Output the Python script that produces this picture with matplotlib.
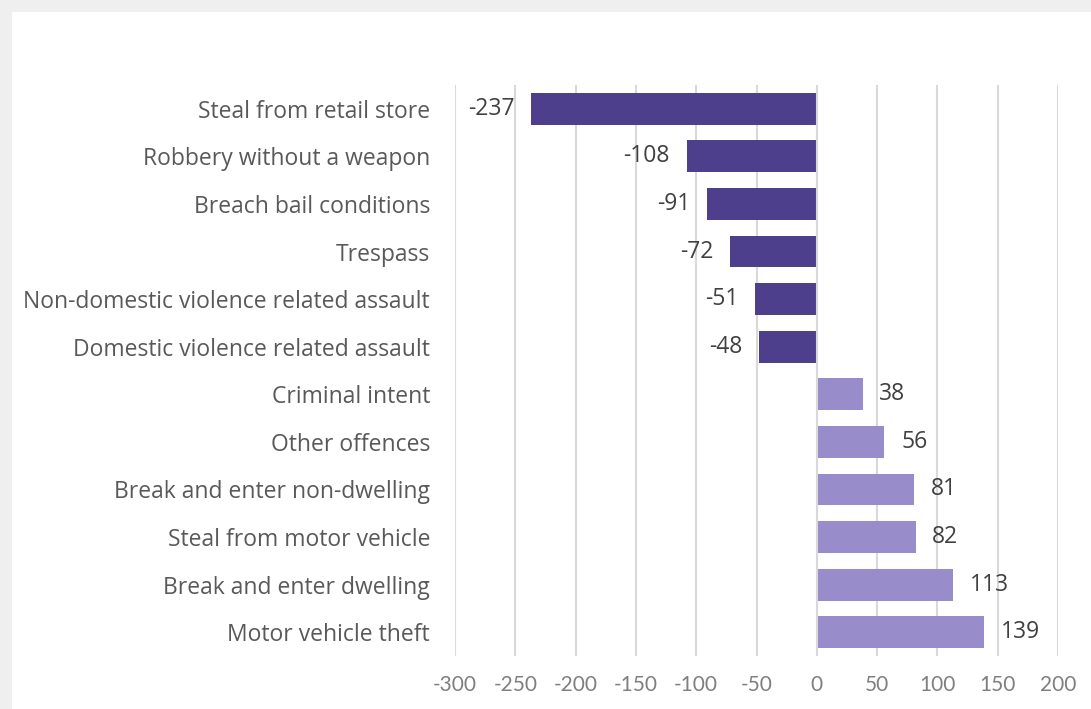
import matplotlib.pyplot as plt
from matplotlib.patches import Rectangle

categories = [
    "Steal from retail store",
    "Robbery without a weapon",
    "Breach bail conditions",
    "Trespass",
    "Non-domestic violence related assault",
    "Domestic violence related assault",
    "Criminal intent",
    "Other offences",
    "Break and enter non-dwelling",
    "Steal from motor vehicle",
    "Break and enter dwelling",
    "Motor vehicle theft",
]
change = [-237, -108, -91, -72, -51, -48, 38, 56, 81, 82, 113, 139]
xticks = [-300, -250, -200, -150, -100, -50, 0, 50, 100, 150, 200]

dark = "#4e3f8c"
light = "#998ccb"
colors = [dark if v < 0 else light for v in change]

fig = plt.figure(figsize=(10.91, 7.09), dpi=100, facecolor="#efefef")
# white card with grey shadow strip at top/left
fig.add_artist(Rectangle((12 / 1091, 0), 1, 1 - 12 / 709, transform=fig.transFigure,
                         facecolor="white", edgecolor="none", zorder=-1))

ax = fig.add_axes([455 / 1091, 1 - 656 / 709, (1058 - 455) / 1091, (656 - 85) / 709])
ax.set_facecolor("none")
ax.set_zorder(1)

y = range(len(categories))
ax.barh(y, change, height=0.67, color=colors, zorder=3)

for i, v in enumerate(change):
    off = -12 if v < 0 else 12
    ax.annotate(str(v), (v, i), xytext=(off, 0), textcoords="offset points",
                ha="right" if v < 0 else "left", va="center",
                fontsize=16.5, color="#404040", family="Open Sans")

ax.set_xlim(-300, 200)
ax.set_ylim(11.5, -0.5)
ax.set_xticks(xticks)
ax.set_xticklabels([str(t) for t in xticks], family="Lato", fontweight="normal",
                   fontsize=15, color="#7f7f7f")
ax.set_yticks(list(y))
ax.set_yticklabels(categories, family="Open Sans", fontsize=16.5, color="#595959")
ax.tick_params(axis="x", length=0, pad=14)
ax.tick_params(axis="y", length=0, pad=18)

ax.grid(axis="x", color="#d9d9d9", linewidth=1.5, zorder=0)
for s in ax.spines.values():
    s.set_visible(False)
ax.axvline(0, color="#d9d9d9", linewidth=1.5, zorder=4)

fig.savefig("out.png", dpi=100, facecolor=fig.get_facecolor())
